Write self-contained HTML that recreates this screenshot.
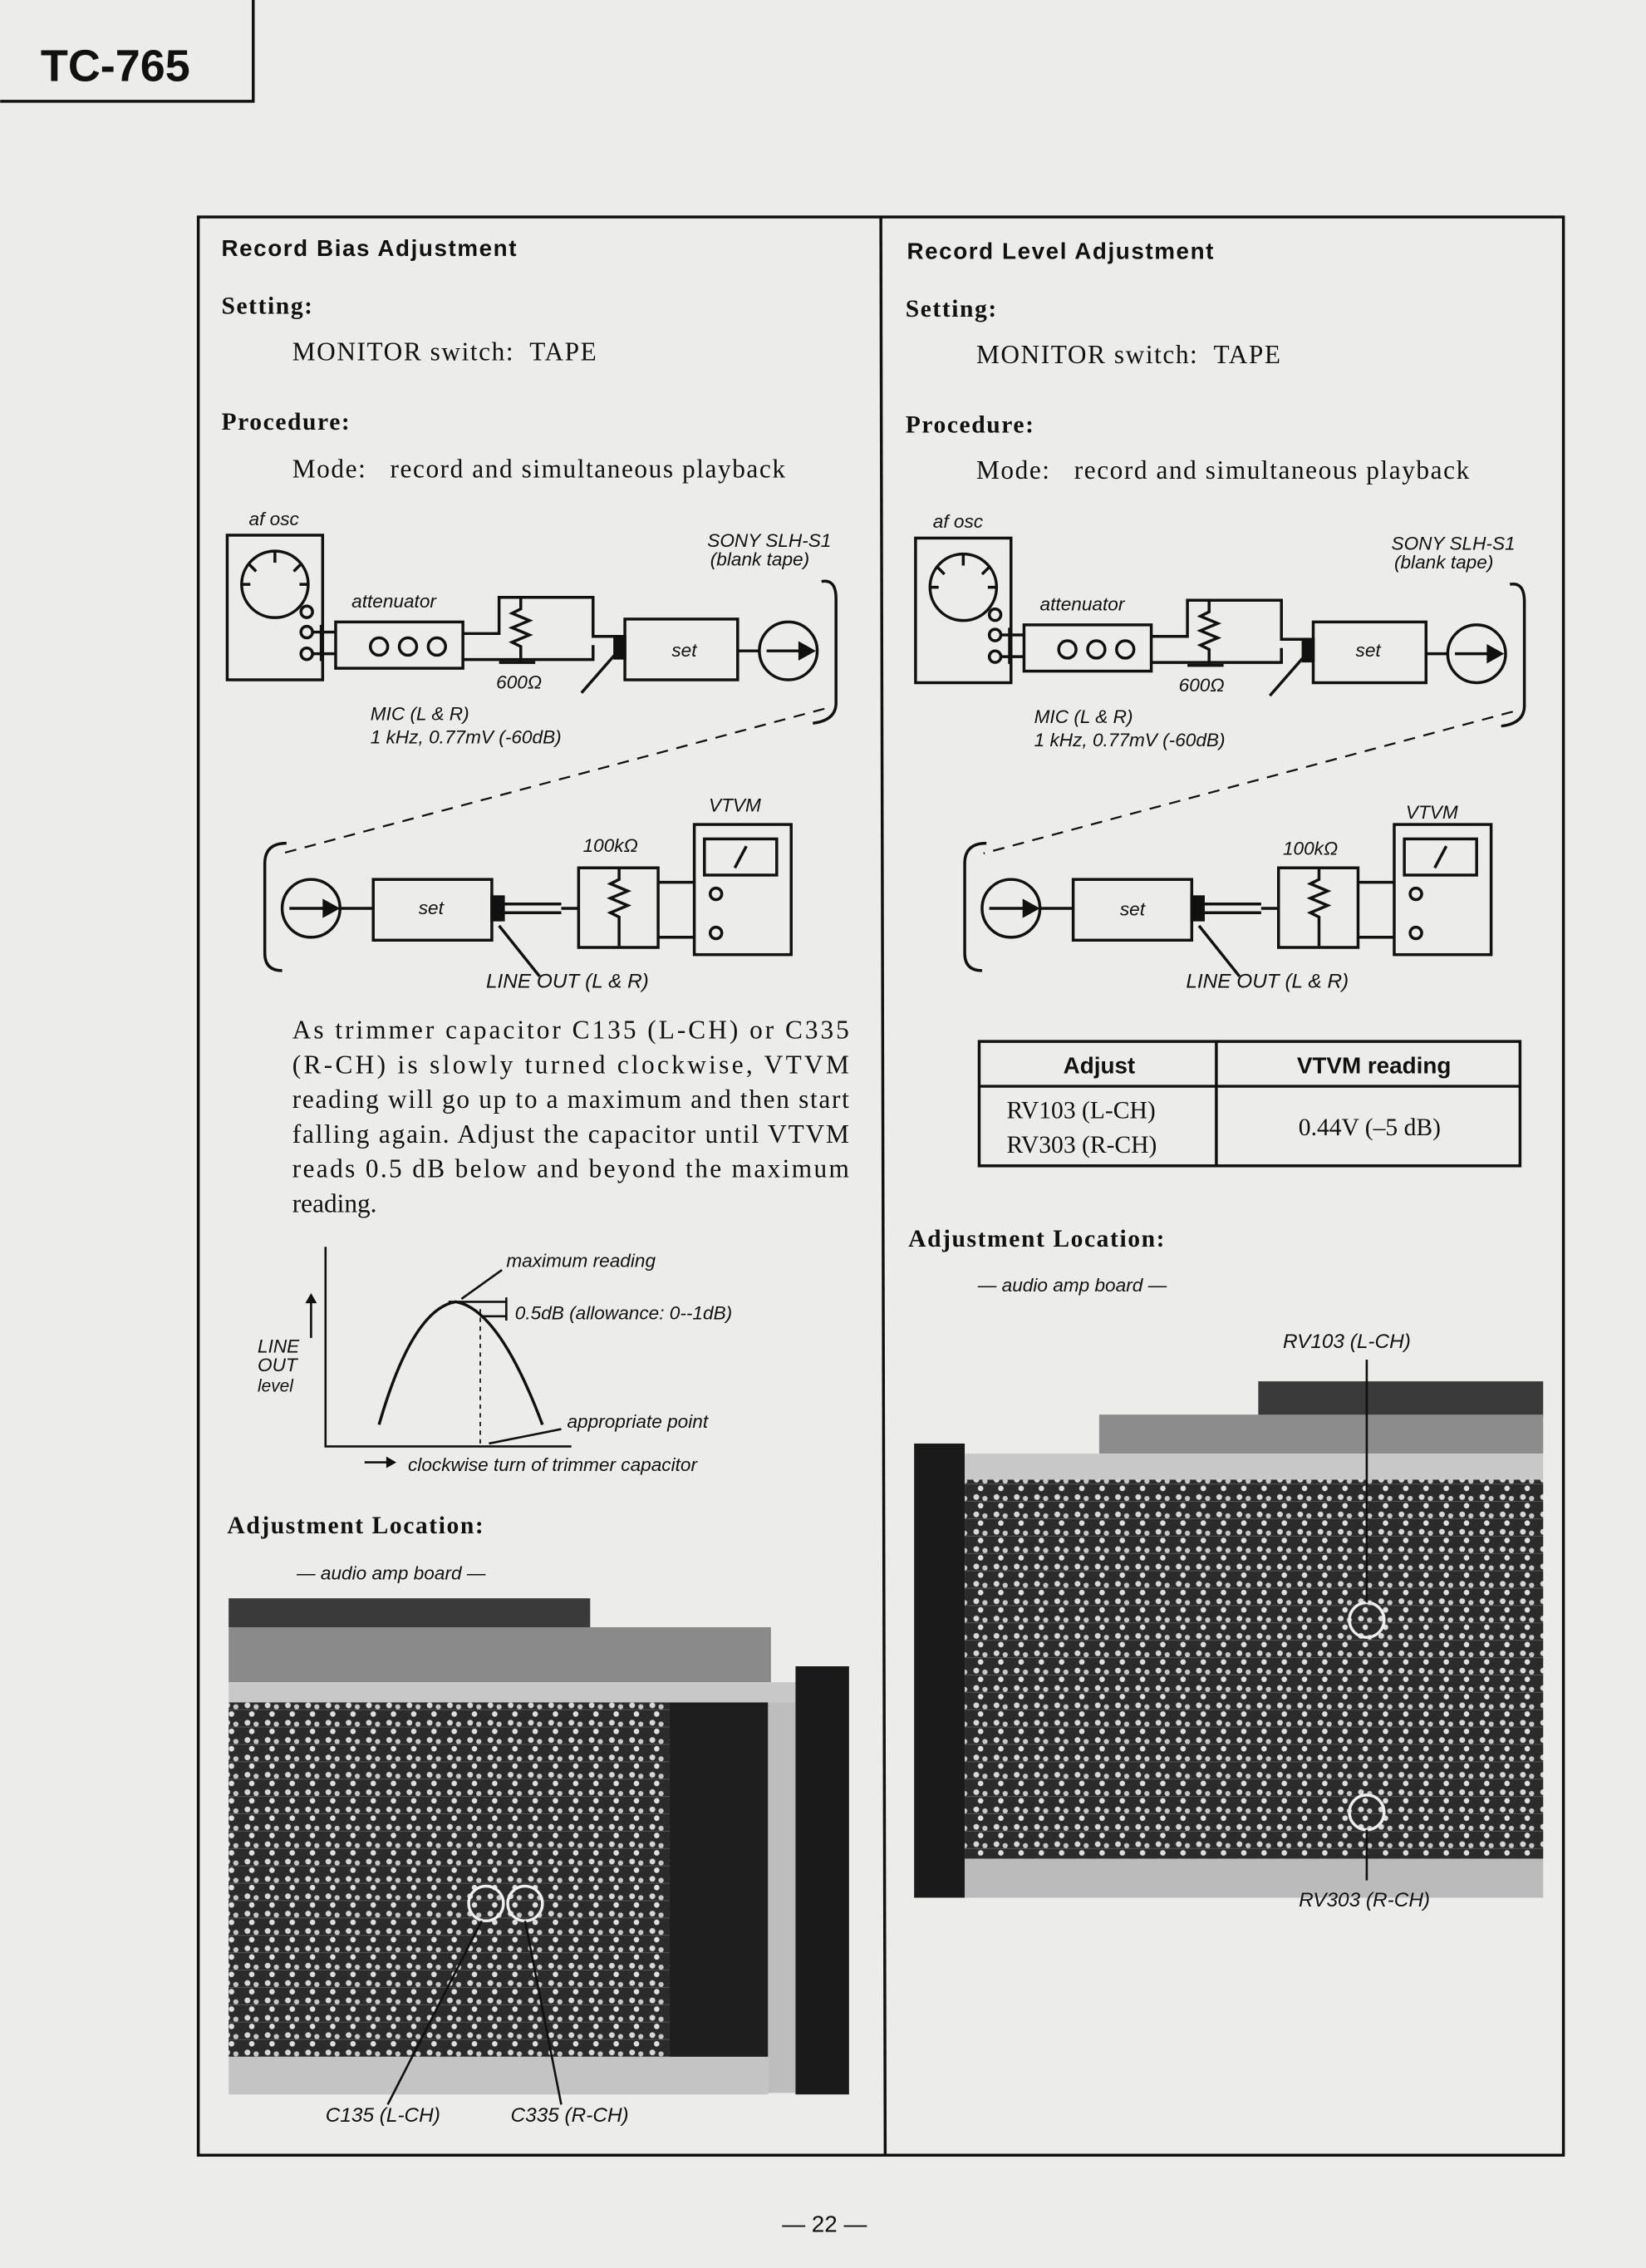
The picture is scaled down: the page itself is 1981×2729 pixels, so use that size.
<!DOCTYPE html>
<html><head><meta charset="utf-8"><style>
html,body{margin:0;padding:0;background:#ececea;}
svg{display:block}
.s{font-family:"Liberation Serif",serif;fill:#111}
.a{font-family:"Liberation Sans",sans-serif;fill:#111}
.i{font-family:"Liberation Sans",sans-serif;font-style:italic;fill:#111}
.w{letter-spacing:0.9px}
</style></head><body>
<svg width="1981" height="2729" viewBox="0 0 1138 1568" xmlns="http://www.w3.org/2000/svg">
<defs>
<pattern id="pcb" width="14" height="12" patternUnits="userSpaceOnUse">
<rect width="14" height="12" fill="#2b2b2b"/>
<circle cx="3" cy="3" r="2" fill="#d8d8d8"/><circle cx="9" cy="4" r="1.8" fill="#c8c8c8"/>
<circle cx="6" cy="9" r="1.9" fill="#e0e0e0"/><path d="M0 6 H14" stroke="#555" stroke-width="0.6"/>
</pattern>
<g id="up" fill="none" stroke="#111" stroke-width="2">
<rect x="157" y="370" width="66" height="100"/>
<circle cx="190" cy="404" r="23"/>
<path d="M190 381v8M172 390l5 5M208 390l-5 5M167 404h6M213 404h-6"/>
<circle cx="212" cy="423" r="4"/><circle cx="212" cy="437" r="4"/><circle cx="212" cy="452" r="4"/>
<path d="M216 437h16M216 452h16M222 432v25"/>
<rect x="232" y="430" width="88" height="32"/>
<circle cx="262" cy="447" r="6"/><circle cx="282" cy="447" r="6"/><circle cx="302" cy="447" r="6"/>
<path d="M320 438h25v-25h65v27h20M320 456h90v-10"/>
<path d="M360 413v8l-6 3 12 5-12 5 12 5-12 5 6 3v10M345 458h25"/>
<rect x="432" y="428" width="78" height="42"/>
<rect x="425" y="440" width="7" height="15" fill="#111"/>
<path d="M430 447l-28 32M510 450h15"/>
<circle cx="545" cy="450" r="20"/>
<path d="M530 450h26"/><path d="M562 450l-9-5v10z" fill="#111"/>
<path d="M568 402q10-2 10 12v72q0 12-16 14"/>
</g>
<g id="lo" fill="none" stroke="#111" stroke-width="2">
<path d="M198 583q-15 0-15 14v62q0 12 12 12"/>
<circle cx="215" cy="628" r="20"/>
<path d="M200 628h26"/><path d="M233 628l-9-5v10z" fill="#111"/>
<path d="M235 628h23"/>
<rect x="258" y="608" width="82" height="42"/>
<rect x="340" y="620" width="8" height="16" fill="#111"/>
<path d="M348 625h40M348 631h40M388 628h12v-28h55v55h-55v-27"/>
<path d="M428 600v8l-6 3 12 5-12 5 12 5-12 5 6 3v20"/>
<path d="M455 610h25M455 648h25M345 640l28 35"/>
<rect x="480" y="570" width="67" height="90"/>
<rect x="487" y="580" width="50" height="25"/><path d="M508 600l8-15"/>
<circle cx="495" cy="618" r="4"/><circle cx="495" cy="645" r="4"/>
</g>
</defs>

<!-- header -->
<path d="M0 70H175V0" fill="none" stroke="#111" stroke-width="2"/>
<text x="28" y="56" class="a" font-size="31" font-weight="bold">TC-765</text>

<!-- frame -->
<rect x="137" y="150" width="944" height="1340" fill="none" stroke="#111" stroke-width="2"/>
<line x1="609" y1="150" x2="612" y2="1490" stroke="#111" stroke-width="2"/>

<!-- LEFT -->
<text x="153" y="177" class="a w" font-size="16" font-weight="bold">Record Bias Adjustment</text>
<text x="153" y="217" class="s w" font-size="17" font-weight="bold">Setting:</text>
<text x="202" y="249" class="s w" font-size="18" xml:space="preserve">MONITOR switch:  TAPE</text>
<text x="153" y="297" class="s w" font-size="17" font-weight="bold">Procedure:</text>
<text x="202" y="330" class="s w" font-size="18" xml:space="preserve">Mode:   record and simultaneous playback</text>
<use href="#up"/>
<text x="172" y="363" class="i" font-size="13">af osc</text>
<text x="243" y="420" class="i" font-size="13">attenuator</text>
<text x="343" y="476" class="i" font-size="13">600Ω</text>
<text x="489" y="378" class="i" font-size="13">SONY SLH-S1</text>
<text x="491" y="391" class="i" font-size="13">(blank tape)</text>
<text x="473" y="454" class="i" font-size="13" text-anchor="middle">set</text>
<text x="256" y="498" class="i" font-size="13">MIC (L &amp; R)</text>
<text x="256" y="514" class="i" font-size="13">1 kHz, 0.77mV (-60dB)</text>
<line x1="570" y1="490" x2="195" y2="590" stroke="#111" stroke-width="1.3" stroke-dasharray="8,6"/>
<use href="#lo"/>
<text x="490" y="561" class="i" font-size="13">VTVM</text>
<text x="403" y="589" class="i" font-size="13">100kΩ</text>
<text x="298" y="632" class="i" font-size="13" text-anchor="middle">set</text>
<text x="336" y="683" class="i" font-size="14">LINE OUT (L &amp; R)</text>
<g class="s" font-size="18">
<text x="202" y="718" textLength="385">As trimmer capacitor C135 (L-CH) or C335</text>
<text x="202" y="742" textLength="385">(R-CH) is slowly turned clockwise, VTVM</text>
<text x="202" y="766" textLength="385">reading will go up to a maximum and then start</text>
<text x="202" y="790" textLength="385">falling again. Adjust the capacitor until VTVM</text>
<text x="202" y="814" textLength="385">reads 0.5 dB below and beyond the maximum</text>
<text x="202" y="838">reading.</text>
</g>
<g fill="none" stroke="#111" stroke-width="1.5">
<path d="M225 862V1000H395"/>
<path d="M262 985Q285 905 315 900Q345 905 375 985" stroke-width="2"/>
<path d="M332 905V1000" stroke-dasharray="3,3" stroke-width="1"/>
<path d="M310 900H350M332 910H350M350 897v16M347 878l-28 20M388 988l-50 10M215 925v-28"/>
<path d="M252 1011h18"/>
</g>
<path d="M215 894l-4 7h8z M274 1011l-7-4v8z" fill="#111"/>
<text x="350" y="876" class="i" font-size="13">maximum reading</text>
<text x="356" y="912" class="i" font-size="13">0.5dB (allowance: 0--1dB)</text>
<text x="392" y="987" class="i" font-size="13">appropriate point</text>
<text x="178" y="935" class="i" font-size="13">LINE</text>
<text x="178" y="948" class="i" font-size="13">OUT</text>
<text x="178" y="962" class="i" font-size="12">level</text>
<text x="282" y="1017" class="i" font-size="13">clockwise turn of trimmer capacitor</text>
<text x="157" y="1060" class="s w" font-size="17" font-weight="bold">Adjustment Location:</text>
<text x="205" y="1092" class="i" font-size="13">— audio amp board —</text>
<!-- left photo -->
<rect x="158" y="1105" width="250" height="20" fill="#3a3a3a"/>
<rect x="158" y="1125" width="375" height="38" fill="#8a8a8a"/>
<rect x="158" y="1163" width="392" height="14" fill="#c8c8c8"/>
<rect x="158" y="1177" width="305" height="245" fill="url(#pcb)"/>
<rect x="463" y="1177" width="68" height="245" fill="#1e1e1e"/>
<rect x="531" y="1177" width="19" height="270" fill="#bdbdbd"/>
<rect x="550" y="1152" width="37" height="296" fill="#1a1a1a"/>
<rect x="158" y="1422" width="373" height="26" fill="#c4c4c4"/>
<circle cx="336" cy="1316" r="12" fill="none" stroke="#eee" stroke-width="2"/>
<circle cx="363" cy="1316" r="12" fill="none" stroke="#eee" stroke-width="2"/>
<path d="M333 1328L268 1455M363 1328L388 1455" stroke="#111" stroke-width="1.5"/>
<text x="225" y="1467" class="i" font-size="14">C135 (L-CH)</text>
<text x="353" y="1467" class="i" font-size="14">C335 (R-CH)</text>

<!-- RIGHT -->
<text x="627" y="179" class="a w" font-size="16" font-weight="bold">Record Level Adjustment</text>
<text x="626" y="219" class="s w" font-size="17" font-weight="bold">Setting:</text>
<text x="675" y="251" class="s w" font-size="18" xml:space="preserve">MONITOR switch:  TAPE</text>
<text x="626" y="299" class="s w" font-size="17" font-weight="bold">Procedure:</text>
<text x="675" y="331" class="s w" font-size="18" xml:space="preserve">Mode:   record and simultaneous playback</text>
<use href="#up" transform="translate(476,2)"/>
<text x="645" y="365" class="i" font-size="13">af osc</text>
<text x="719" y="422" class="i" font-size="13">attenuator</text>
<text x="815" y="478" class="i" font-size="13">600Ω</text>
<text x="962" y="380" class="i" font-size="13">SONY SLH-S1</text>
<text x="964" y="393" class="i" font-size="13">(blank tape)</text>
<text x="946" y="454" class="i" font-size="13" text-anchor="middle">set</text>
<text x="715" y="500" class="i" font-size="13">MIC (L &amp; R)</text>
<text x="715" y="516" class="i" font-size="13">1 kHz, 0.77mV (-60dB)</text>
<line x1="1046" y1="492" x2="680" y2="590" stroke="#111" stroke-width="1.3" stroke-dasharray="8,6"/>
<use href="#lo" transform="translate(484,0)"/>
<text x="972" y="566" class="i" font-size="13">VTVM</text>
<text x="887" y="591" class="i" font-size="13">100kΩ</text>
<text x="783" y="633" class="i" font-size="13" text-anchor="middle">set</text>
<text x="820" y="683" class="i" font-size="14">LINE OUT (L &amp; R)</text>
<g fill="none" stroke="#111" stroke-width="2">
<rect x="677" y="720" width="374" height="86"/><path d="M841 720v86M677 751h374"/>
</g>
<text x="760" y="742" class="a" font-size="16" font-weight="bold" text-anchor="middle">Adjust</text>
<text x="950" y="742" class="a" font-size="16" font-weight="bold" text-anchor="middle">VTVM reading</text>
<text x="696" y="773" class="s" font-size="17">RV103 (L-CH)</text>
<text x="696" y="797" class="s" font-size="17">RV303 (R-CH)</text>
<text x="947" y="785" class="s" font-size="17" text-anchor="middle">0.44V (–5 dB)</text>
<text x="628" y="862" class="s w" font-size="17" font-weight="bold">Adjustment Location:</text>
<text x="676" y="893" class="i" font-size="13">— audio amp board —</text>
<text x="887" y="932" class="i" font-size="14">RV103 (L-CH)</text>
<!-- right photo -->
<rect x="870" y="955" width="197" height="25" fill="#3a3a3a"/>
<rect x="760" y="978" width="307" height="27" fill="#8c8c8c"/>
<rect x="632" y="998" width="35" height="314" fill="#1a1a1a"/>
<rect x="667" y="1005" width="400" height="18" fill="#c8c8c8"/>
<rect x="667" y="1023" width="400" height="262" fill="url(#pcb)"/>
<rect x="667" y="1285" width="400" height="27" fill="#bbbbbb"/>
<circle cx="945" cy="1120" r="12" fill="none" stroke="#eee" stroke-width="2"/>
<circle cx="945" cy="1253" r="12" fill="none" stroke="#eee" stroke-width="2"/>
<path d="M945 940V1108M945 1265V1300" stroke="#111" stroke-width="1.5"/>
<text x="898" y="1318" class="i" font-size="14">RV303 (R-CH)</text>

<text x="570" y="1543" class="a" font-size="16" text-anchor="middle">— 22 —</text>
</svg>
</body></html>
